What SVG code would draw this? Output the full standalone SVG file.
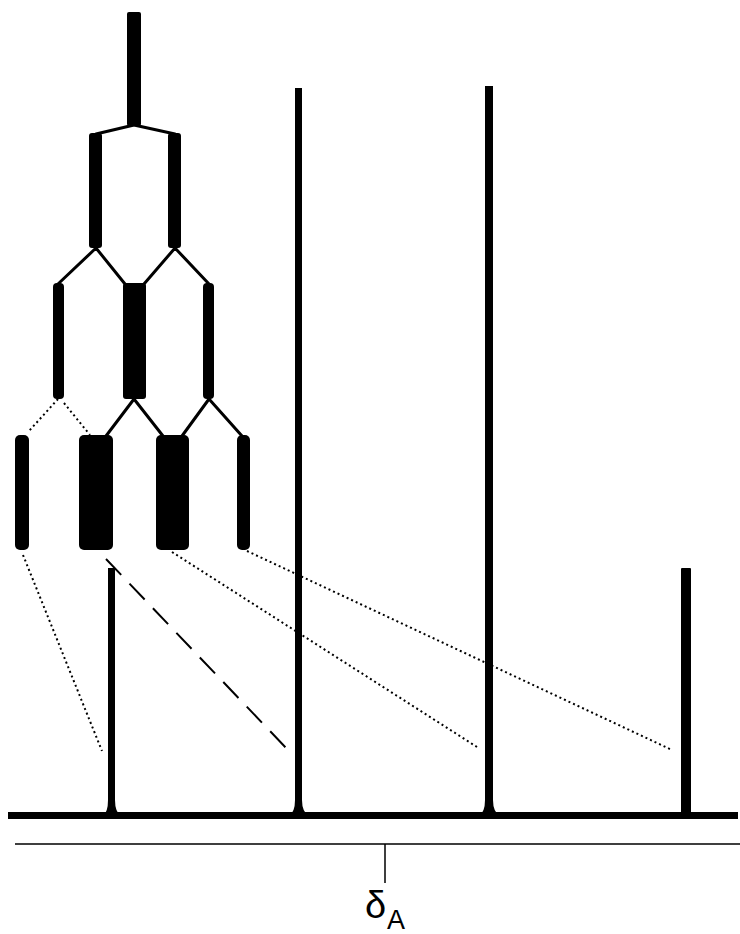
<svg xmlns="http://www.w3.org/2000/svg" width="740" height="934" viewBox="0 0 740 934">
<style>
.bar{fill:#000}
.br{stroke:#000;stroke-width:3;fill:none;stroke-linecap:round}
.dot{stroke:#000;stroke-width:2;fill:none;stroke-dasharray:2 3}
.dash{stroke:#000;stroke-width:2;fill:none;stroke-dasharray:22 12}
.ax{stroke:#000;stroke-width:1.5;fill:none}
.lbl{font-family:"Liberation Sans",Arial,sans-serif;fill:#000}
</style>
<rect width="740" height="934" fill="#fff"/>
<g id="tree">
  <rect class="bar" x="127" y="12" width="14" height="114" rx="2"/>
  <rect class="bar" x="89" y="133" width="13" height="115" rx="3"/>
  <rect class="bar" x="168" y="133" width="13" height="115" rx="3"/>
  <rect class="bar" x="53" y="283" width="11" height="116" rx="4"/>
  <rect class="bar" x="123" y="283" width="23" height="116" rx="3"/>
  <rect class="bar" x="203" y="283" width="11" height="116" rx="4"/>
  <rect class="bar" x="15" y="435" width="14" height="115" rx="5"/>
  <rect class="bar" x="79" y="435" width="34" height="115" rx="5"/>
  <rect class="bar" x="156" y="435" width="33" height="115" rx="5"/>
  <rect class="bar" x="237" y="435" width="13" height="115" rx="5"/>
</g>
<g id="branches">
  <path class="br" d="M134 125 L96 134 M134 125 L175 134"/>
  <path class="br" d="M96 248 L58 284 M96 248 L125 284 M175 248 L144 284 M175 248 L209 284"/>
  <path class="dot" d="M58 399 L29 431 M64 403 L90 435"/>
  <path class="br" d="M134 399 L106 436 M134 399 L163 436 M209 399 L182 436 M209 399 L242 436"/>
</g>
<g id="peaks">
  <rect class="bar" x="108" y="568" width="7" height="248"/>
  <path class="bar" d="M103 816 Q108 812 108 800 L115 800 Q115 812 121 816 Z"/>
  <rect class="bar" x="295" y="88" width="7" height="728"/>
  <path class="bar" d="M289 816 Q295 812 295 800 L302 800 Q302 812 309 816 Z"/>
  <rect class="bar" x="485" y="86" width="8" height="730"/>
  <path class="bar" d="M479 816 Q485 812 485 800 L493 800 Q493 812 500 816 Z"/>
  <rect class="bar" x="681" y="568" width="10" height="248" rx="1"/>
</g>
<g id="baseline">
  <rect class="bar" x="8" y="812" width="730" height="7"/>
</g>
<g id="connectors">
  <path class="dot" d="M23 555 L102 751"/>
  <path class="dash" d="M106 559 L289 751"/>
  <path class="dot" d="M172 552 L477 747"/>
  <path class="dot" d="M247 551 L672 750"/>
</g>
<g id="axis">
  <path class="ax" d="M15 844 L740 844 M385 844 L385 883"/>
  <text class="lbl" x="365" y="918" font-size="38">δ</text>
  <text class="lbl" x="387" y="929" font-size="27">A</text>
</g>
</svg>
